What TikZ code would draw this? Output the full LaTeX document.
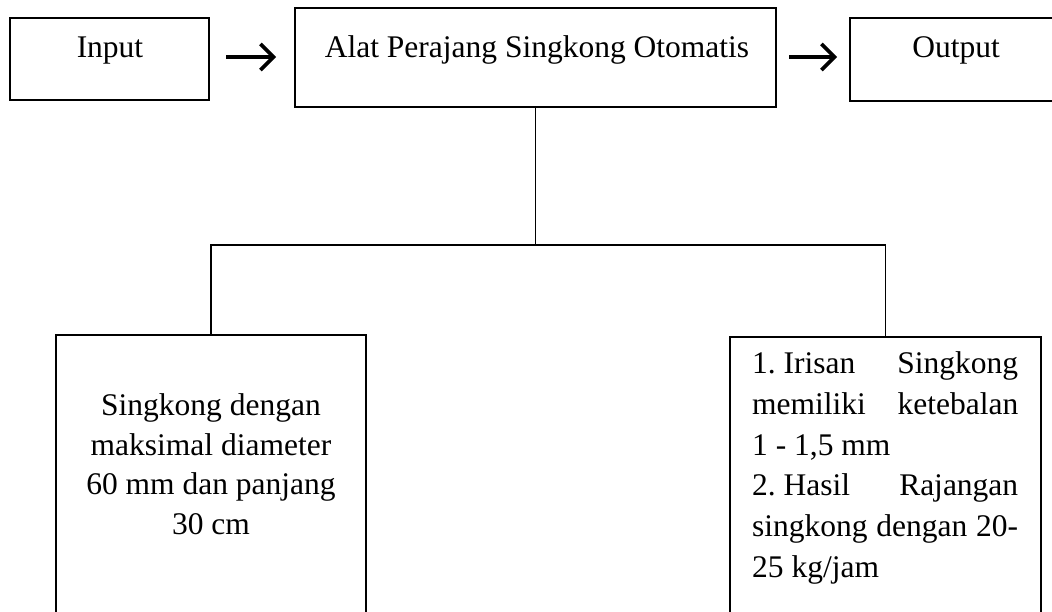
\documentclass[tikz,border=0pt]{standalone}
\usepackage{fontspec}
\setmainfont{Liberation Serif}
\usetikzlibrary{arrows.meta}
\begin{document}
\begin{tikzpicture}[x=1pt,y=-1pt,
  box/.style={draw, line width=2pt, rectangle, inner sep=0pt},
  lbl/.style={inner sep=0pt, font=\fontsize{31.5}{40.8}\selectfont},
  conn/.style={draw, line width=1.3pt},
  arr/.style={draw, line width=3.6pt, -{Straight Barb[length=13pt,width=26pt]}}]
\useasboundingbox (0,0) rectangle (1052,612);
\clip (0,0) rectangle (1052,612);
\fill[white] (0,0) rectangle (1052,612);
% boxes
\node[box, minimum width=199pt, minimum height=82pt] (I) at (109.5,59) {};
\node[box, minimum width=481pt, minimum height=99pt] (M) at (535.5,57.5) {};
\node[box, minimum width=220pt, minimum height=83pt] (O) at (960,59.5) {};
\node[box, minimum width=310pt, minimum height=315pt] (L) at (211,492.5) {};
\node[box, minimum width=311pt, minimum height=313pt] (R) at (885.5,493.5) {};
% texts
\node[lbl, anchor=base] (It) at (110,58) {Input};
\node[lbl, anchor=base] (Mt) at (537,58) {Alat Perajang Singkong Otomatis};
\node[lbl, anchor=base] (Ot) at (956,58) {Output};
\node[lbl, anchor=north, align=center, font=\fontsize{31.5}{39.5}\selectfont] (Lt) at (211,393.5)
  {Singkong dengan\\maksimal diameter\\60 mm dan panjang\\30 cm};
\node[lbl, anchor=north west, text width=266pt, align=justify] (Rt) at (752,351.5)
  {1.\kern0.25em Irisan Singkong\linebreak memiliki ketebalan\linebreak 1 - 1,5 mm\newline 2.\kern0.25em Hasil Rajangan\linebreak singkong dengan 20-\linebreak 25 kg/jam};
% arrows
\draw[arr, shorten <=16pt, shorten >=18pt] (I.east |- 0,57) -- (M.west |- 0,57);
\draw[arr, shorten <=12pt, shorten >=12pt] (M.east |- 0,57) -- (O.west |- 0,57);
% tree connectors
\coordinate (hub) at (M.south |- 0,245);
\draw[conn] (M.south) -- (hub);
\draw[conn] (L.north) |- (hub) -| (R.north);
\end{tikzpicture}
\end{document}
